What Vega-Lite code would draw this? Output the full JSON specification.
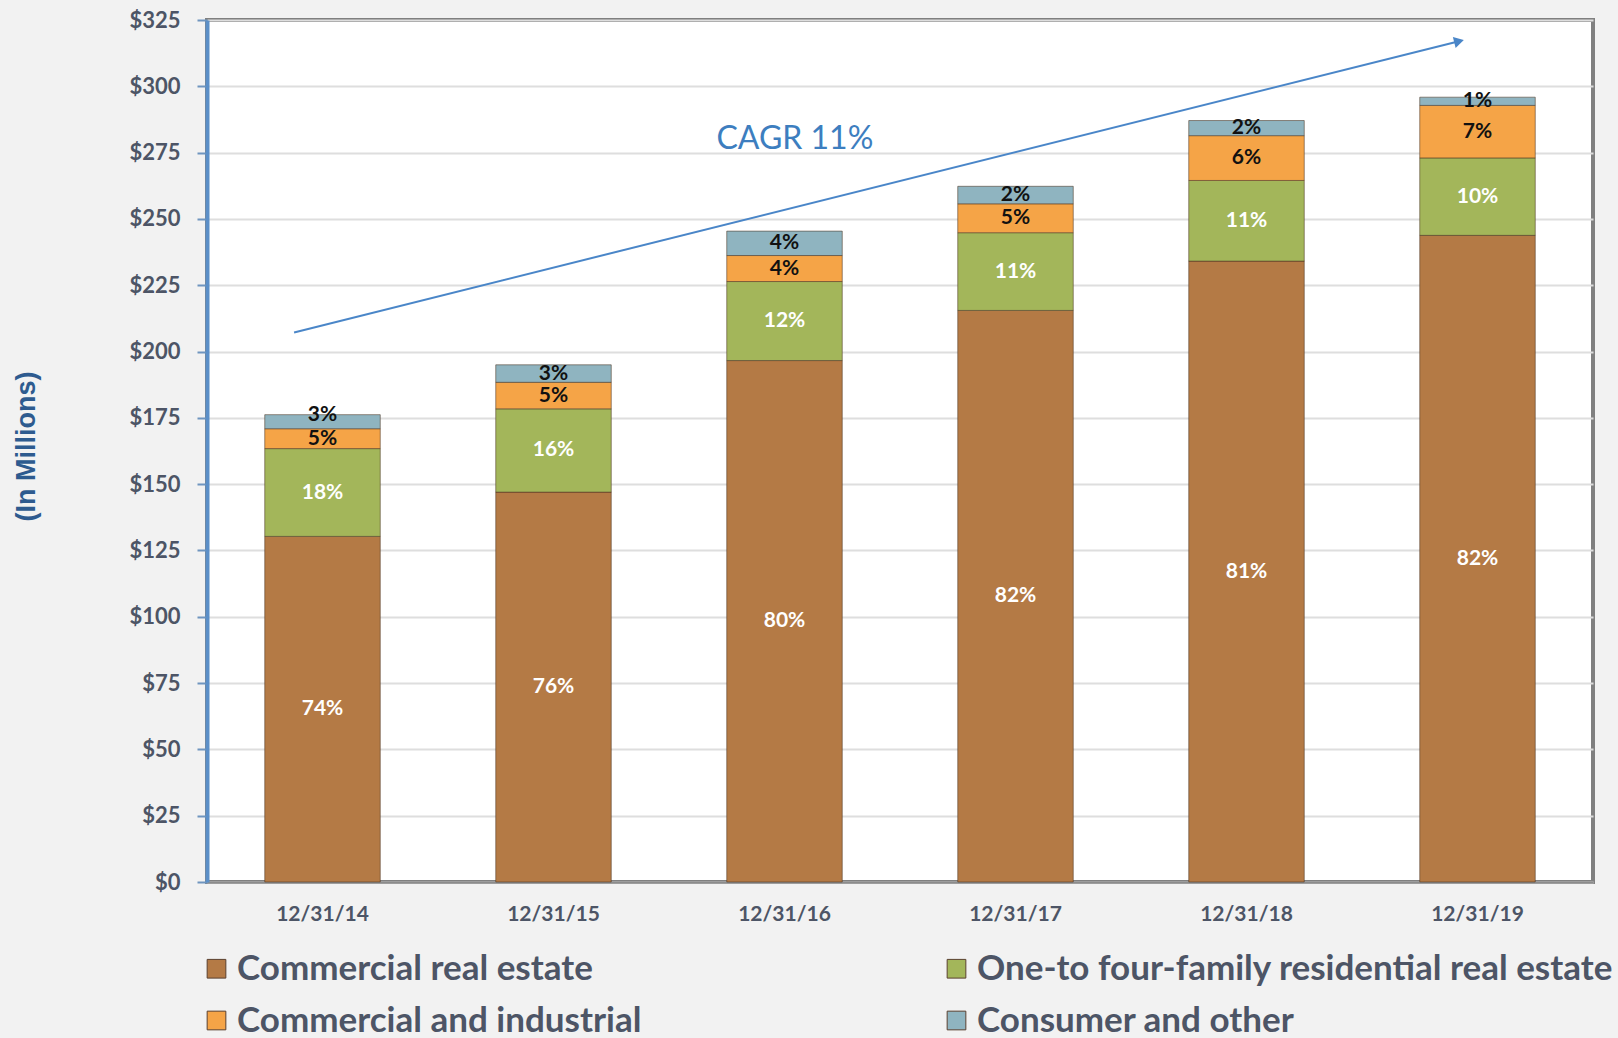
{
  "$schema": "https://vega.github.io/schema/vega-lite/v6.json",
  "autosize": {"type": "none"},
  "width": 1386,
  "height": 862,
  "padding": {"left": 207, "top": 20, "right": 25, "bottom": 156},
  "background": "#f2f2f2",
  "view": {"fill": "#ffffff", "stroke": "#808080", "strokeWidth": 4},
  "config": {
    "font": "Lato",
    "axis": {"labelFont": "Lato", "titleFont": "Lato"},
    "legend": {"labelFont": "Lato"}
  },
  "datasets": {
    "loans": [
      {"date": "12/31/14", "category": "Commercial real estate", "idx": 0, "value": 130.3, "label": "74%"},
      {"date": "12/31/14", "category": "One-to four-family residential real estate", "idx": 1, "value": 33.1, "label": "18%"},
      {"date": "12/31/14", "category": "Commercial and industrial", "idx": 2, "value": 7.5, "label": "5%"},
      {"date": "12/31/14", "category": "Consumer and other", "idx": 3, "value": 5.3, "label": "3%"},
      {"date": "12/31/15", "category": "Commercial real estate", "idx": 0, "value": 147.0, "label": "76%"},
      {"date": "12/31/15", "category": "One-to four-family residential real estate", "idx": 1, "value": 31.4, "label": "16%"},
      {"date": "12/31/15", "category": "Commercial and industrial", "idx": 2, "value": 10.0, "label": "5%"},
      {"date": "12/31/15", "category": "Consumer and other", "idx": 3, "value": 6.6, "label": "3%"},
      {"date": "12/31/16", "category": "Commercial real estate", "idx": 0, "value": 196.6, "label": "80%"},
      {"date": "12/31/16", "category": "One-to four-family residential real estate", "idx": 1, "value": 29.8, "label": "12%"},
      {"date": "12/31/16", "category": "Commercial and industrial", "idx": 2, "value": 9.8, "label": "4%"},
      {"date": "12/31/16", "category": "Consumer and other", "idx": 3, "value": 9.2, "label": "4%"},
      {"date": "12/31/17", "category": "Commercial real estate", "idx": 0, "value": 215.5, "label": "82%"},
      {"date": "12/31/17", "category": "One-to four-family residential real estate", "idx": 1, "value": 29.3, "label": "11%"},
      {"date": "12/31/17", "category": "Commercial and industrial", "idx": 2, "value": 10.9, "label": "5%"},
      {"date": "12/31/17", "category": "Consumer and other", "idx": 3, "value": 6.6, "label": "2%"},
      {"date": "12/31/18", "category": "Commercial real estate", "idx": 0, "value": 234.1, "label": "81%"},
      {"date": "12/31/18", "category": "One-to four-family residential real estate", "idx": 1, "value": 30.4, "label": "11%"},
      {"date": "12/31/18", "category": "Commercial and industrial", "idx": 2, "value": 16.9, "label": "6%"},
      {"date": "12/31/18", "category": "Consumer and other", "idx": 3, "value": 5.7, "label": "2%"},
      {"date": "12/31/19", "category": "Commercial real estate", "idx": 0, "value": 243.8, "label": "82%"},
      {"date": "12/31/19", "category": "One-to four-family residential real estate", "idx": 1, "value": 29.2, "label": "10%"},
      {"date": "12/31/19", "category": "Commercial and industrial", "idx": 2, "value": 19.8, "label": "7%"},
      {"date": "12/31/19", "category": "Consumer and other", "idx": 3, "value": 3.1, "label": "1%"}
    ],
    "arrow": [
      {"xs": 0.377, "ys": 207.2, "xe": 5.42, "ye": 317.0}
    ],
    "cagr": [
      {"xp": 2.545, "yp": 280.0, "text": "CAGR 11%"}
    ]
  },
  "layer": [
    {
      "data": {"name": "loans"},
      "encoding": {
        "x": {
          "field": "date", "type": "ordinal", "title": null,
          "scale": {"paddingInner": 0.5, "paddingOuter": 0.25},
          "axis": {
            "labelAngle": 0, "labelFontSize": 21, "labelFontWeight": "bold", "labelColor": "#4d5566",
            "labelPadding": 21, "ticks": false, "domainColor": "#8c8c8c", "domainWidth": 2
          }
        }
      },
      "layer": [
        {
          "mark": {"type": "bar", "stroke": "#4a3522", "strokeWidth": 1, "strokeOpacity": 0.55},
          "encoding": {
            "y": {
              "field": "value", "type": "quantitative", "stack": "zero",
              "title": "(In Millions)",
              "scale": {"domain": [0, 325], "nice": false},
              "axis": {
                "values": [0, 25, 50, 75, 100, 125, 150, 175, 200, 225, 250, 275, 300, 325],
                "format": "$,.0f",
                "labelFontSize": 22, "labelFontWeight": "bold", "labelColor": "#4d5566", "labelPadding": 17,
                "tickSize": 10, "tickColor": "#6f95bf", "tickWidth": 2,
                "domainColor": "#5b8fc8", "domainWidth": 4,
                "gridColor": "#dedede", "gridWidth": 2,
                "titleFont": "Liberation Sans", "titleFontSize": 27, "titleFontWeight": "bold", "titleColor": "#2e5b8f",
                "titleX": -181, "titleY": 426, "titleAngle": -90, "titleAlign": "center", "titleBaseline": "middle"
              }
            },
            "color": {
              "field": "category", "type": "nominal", "title": null,
              "sort": ["Commercial real estate", "One-to four-family residential real estate", "Commercial and industrial", "Consumer and other"],
              "scale": {
                "domain": ["Commercial real estate", "One-to four-family residential real estate", "Commercial and industrial", "Consumer and other"],
                "range": ["#b47a45", "#a3b65a", "#f5a447", "#8fb4c0"]
              },
              "legend": {
                "orient": "none", "legendX": -8, "legendY": 931, "columns": 2, "direction": "horizontal",
                "symbolType": "square", "symbolSize": 350, "symbolStrokeColor": "#5a4030", "symbolStrokeWidth": 1,
                "labelFontSize": 35, "labelFontWeight": "bold", "labelColor": "#4d5566", "labelLimit": 0,
                "labelOffset": 3, "columnPadding": 297, "rowPadding": 16
              }
            },
            "order": {"field": "idx", "type": "quantitative"}
          }
        },
        {
          "transform": [
            {"stack": "value", "groupby": ["date"], "sort": [{"field": "idx", "order": "ascending"}], "as": ["v0", "v1"]},
            {"calculate": "(datum.v0 + datum.v1) / 2", "as": "mid"}
          ],
          "mark": {
            "type": "text", "fontSize": 21, "fontWeight": "bold", "font": "Lato",
            "dy": {"expr": "datum.date === '12/31/14' && datum.idx === 3 ? -7 : 0"}
          },
          "encoding": {
            "y": {"field": "mid", "type": "quantitative"},
            "text": {"field": "label"},
            "color": {
              "condition": {"test": "datum.idx < 2", "value": "#ffffff"},
              "value": "#111111"
            }
          }
        }
      ]
    },
    {
      "data": {"name": "arrow"},
      "mark": {"type": "rule", "color": "#4a86c8", "strokeWidth": 2},
      "encoding": {
        "x": {"field": "xs", "type": "quantitative", "scale": {"domain": [0, 6], "nice": false, "zero": false}, "axis": null},
        "y": {"field": "ys", "type": "quantitative"},
        "x2": {"field": "xe"},
        "y2": {"field": "ye"}
      }
    },
    {
      "data": {"name": "arrow"},
      "mark": {"type": "point", "shape": "triangle-up", "filled": true, "color": "#4a86c8", "size": 130, "angle": 76, "opacity": 1},
      "encoding": {
        "x": {"field": "xe", "type": "quantitative", "scale": {"domain": [0, 6], "nice": false, "zero": false}, "axis": null},
        "y": {"field": "ye", "type": "quantitative"}
      }
    },
    {
      "data": {"name": "cagr"},
      "mark": {"type": "text", "fontSize": 32, "font": "Lato", "color": "#3d7ebf", "align": "center", "baseline": "middle"},
      "encoding": {
        "x": {"field": "xp", "type": "quantitative", "scale": {"domain": [0, 6], "nice": false, "zero": false}, "axis": null},
        "y": {"field": "yp", "type": "quantitative"},
        "text": {"field": "text"}
      }
    }
  ],
  "resolve": {"scale": {"x": "independent"}, "axis": {"x": "independent"}}
}
